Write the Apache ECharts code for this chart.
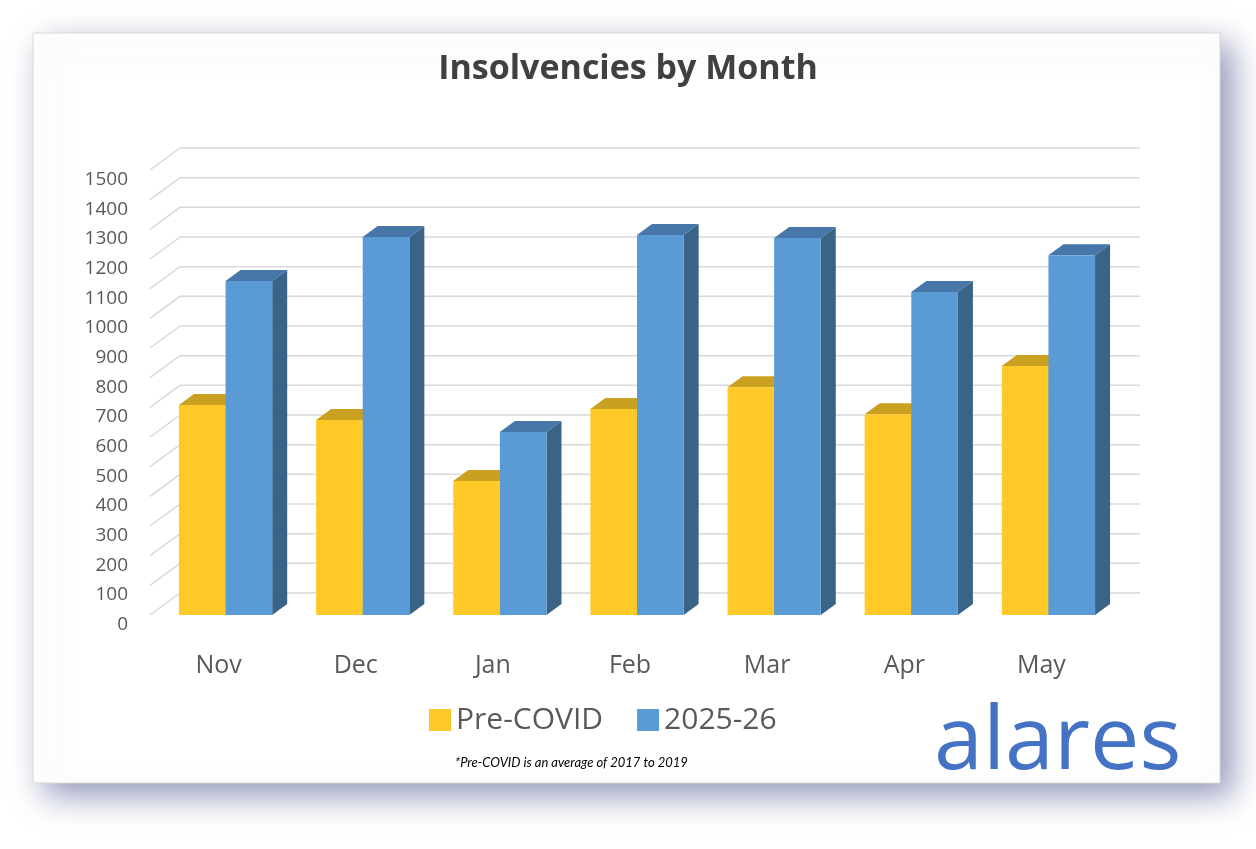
<!DOCTYPE html>
<html>
<head>
<meta charset="utf-8">
<script src="https://cdn.jsdelivr.net/npm/echarts@6/dist/echarts.min.js"></script>
<style>html,body{margin:0;background:#fff}#chart{width:1256px;height:849px}</style>
</head>
<body>
<div id="chart"></div>
<script>
var months = ['Nov', 'Dec', 'Jan', 'Feb', 'Mar', 'Apr', 'May'];
var preCovid = [708, 657, 452, 694, 768, 677, 839];
var current = [1126, 1274, 617, 1281, 1271, 1089, 1213];
var ticks = [0, 100, 200, 300, 400, 500, 600, 700, 800, 900, 1000, 1100, 1200, 1300, 1400, 1500];

var DX = 15, DY = -11; // bar depth
var WX = 30, WY = -22; // back wall depth

function bar(api, x0, x1, val, cols) {
  var top = api.coord([0, val])[1];
  var base = api.coord([0, 0])[1];
  return [
    { type: 'polygon', shape: { points: [[x1, top], [x1 + DX, top + DY], [x1 + DX, base + DY], [x1, base]] }, style: { fill: cols[2] } },
    { type: 'polygon', shape: { points: [[x0, top], [x0 + DX, top + DY], [x1 + DX, top + DY], [x1, top]] }, style: { fill: cols[1] } },
    { type: 'rect', shape: { x: x0, y: top, width: x1 - x0, height: base - top }, style: { fill: cols[0] } }
  ];
}

var chart = echarts.init(document.getElementById('chart'));
chart.setOption({
  animation: false,
  graphic: [
    { type: 'rect', z: -10, shape: { x: 33, y: 33, width: 1187, height: 750 },
      style: { fill: '#fff', stroke: '#d9d9d9', shadowBlur: 30, shadowOffsetX: 12, shadowOffsetY: 12, shadowColor: 'rgba(60,70,130,0.55)' } },
    { type: 'text', left: 'center', top: 52, style: { text: 'Insolvencies by Month', font: 'bold 34px "Open Sans", sans-serif', fill: '#404040' } },
    { type: 'text', left: 455, top: 756, style: { text: '*Pre-COVID is an average of 2017 to 2019', font: 'italic 13px Lato, sans-serif', fill: '#000' } },
    { type: 'text', left: 934, top: 700, style: { text: 'alares', font: '88px "Open Sans", sans-serif', fill: '#4472c4' } }
  ],
  legend: {
    bottom: 109, left: 424, itemWidth: 22, itemHeight: 22, itemGap: 34,
    icon: 'rect', textStyle: { fontSize: 30, color: '#595959', fontFamily: '"Open Sans", sans-serif' },
    data: [{ name: 'Pre-COVID', itemStyle: { color: '#ffca28' } }, { name: '2025-26', itemStyle: { color: '#5b9bd5' } }]
  },
  grid: { left: 150, right: 146, top: 170, bottom: 234 },
  xAxis: {
    type: 'category', data: months,
    axisLine: { show: false }, axisTick: { show: false },
    axisLabel: { margin: 38, fontSize: 25, color: '#595959', fontFamily: '"Open Sans", sans-serif' }
  },
  yAxis: {
    type: 'value', min: 0, max: 1500, interval: 100,
    splitLine: { show: false }, axisLine: { show: false },
    axisLabel: { margin: 22, fontSize: 19, color: '#595959', fontFamily: '"Open Sans", sans-serif',
      verticalAlign: 'top', formatter: function (v) { return String(v); } }
  },
  series: [
    {
      type: 'custom', silent: true, z: 1,
      data: ticks.map(function (t) { return [0, t]; }),
      renderItem: function (params, api) {
        var y = api.coord([0, api.value(1)])[1];
        var rect = params.coordSys;
        return { type: 'polyline', shape: { points: [[rect.x, y], [rect.x + WX, y + WY], [rect.x + rect.width + WX, y + WY]] },
          style: { stroke: '#d9d9d9', lineWidth: 1.5, fill: null } };
      }
    },
    {
      name: 'Pre-COVID', type: 'custom', z: 3,
      data: preCovid.map(function (v, i) { return [i, v]; }),
      renderItem: function (params, api) {
        var c = api.coord([api.value(0), 0])[0] + 7;
        var w = api.size([1, 0])[0] * 0.34;
        return { type: 'group', children: bar(api, c - w, c, api.value(1), ['#ffca28', '#c9a020', '#a88612']) };
      }
    },
    {
      name: '2025-26', type: 'custom', z: 4,
      data: current.map(function (v, i) { return [i, v]; }),
      renderItem: function (params, api) {
        var c = api.coord([api.value(0), 0])[0] + 7;
        var w = api.size([1, 0])[0] * 0.34;
        return { type: 'group', children: bar(api, c, c + w, api.value(1), ['#5b9bd5', '#4677a8', '#3a6388']) };
      }
    }
  ]
});
</script>
</body>
</html>
